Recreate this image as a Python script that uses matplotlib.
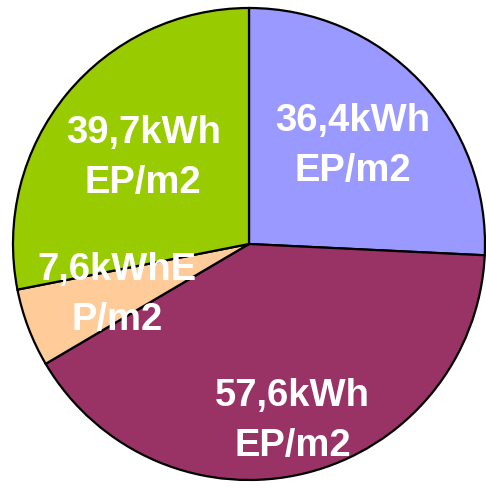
import numpy as np
import matplotlib.pyplot as plt

values = [36.4, 57.6, 7.6, 39.7]
labels = ["36,4kWh\nEP/m2", "57,6kWh\nEP/m2", "7,6kWhE\nP/m2", "39,7kWh\nEP/m2"]
colors = ["#9999FF", "#993366", "#FFCC99", "#99CC00"]

# where each label sits along its wedge (fraction of radius)
label_dist = [0.61, 0.77, 0.60, 0.58]

fig = plt.figure(figsize=(4.86, 4.89), dpi=100)
ax = fig.add_axes([0, 0, 1, 1])

wedges, _ = ax.pie(values, colors=colors, startangle=90, counterclock=False,
                   wedgeprops=dict(edgecolor="black", linewidth=1.6))

for w, txt, d in zip(wedges, labels, label_dist):
    mid = np.deg2rad((w.theta1 + w.theta2) / 2)
    ax.text(d * np.cos(mid), d * np.sin(mid), txt, ha="center", va="center",
            color="white", fontsize=27.5, fontweight="bold",
            family="Liberation Sans", linespacing=1.5)

r_px = 236
cx, cy = 249, 245
ax.set_xlim(-cx / r_px, (486 - cx) / r_px)
ax.set_ylim(-(489 - cy) / r_px, cy / r_px)
ax.set_aspect("auto")
ax.axis("off")

fig.savefig("out.png", dpi=100)
